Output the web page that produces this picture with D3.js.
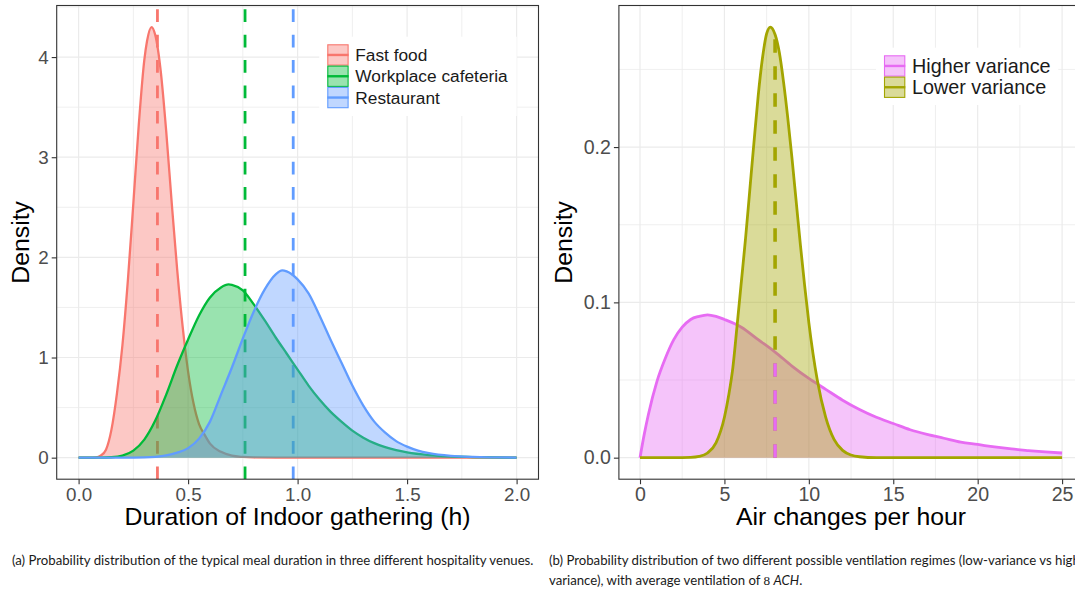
<!DOCTYPE html>
<html>
<head>
<meta charset="utf-8">
<script src="https://cdn.jsdelivr.net/npm/d3@7"></script>
<style>
  body { margin: 0; background: #fff; overflow: hidden; }
  svg { display: block; }
  text { font-family: "Liberation Sans", Arial, sans-serif; }
  .caption { font-family: Lato, sans-serif; font-size: 13.2px; fill: #1a1a1a; }
</style>
</head>
<body>
<svg id="chart" width="1075" height="593"></svg>
<script>
// ---- data ----
// (a) meal duration densities
var venueNames = ["Fast food", "Workplace cafeteria", "Restaurant"];
var venueColors = ["#F8766D", "#00BA38", "#619CFF"];
var venueMeans = [0.36, 0.76, 0.98];

var fastFoodHours = [0, 0.05, 0.08, 0.10, 0.125, 0.15, 0.175, 0.20, 0.225, 0.25, 0.275, 0.30, 0.3125, 0.333, 0.35, 0.375, 0.40, 0.425, 0.45, 0.475, 0.50, 0.525, 0.55, 0.575, 0.60, 0.65, 0.70, 0.75, 0.80, 0.90, 1.0, 1.5, 2.0];
var fastFoodDensity = [0, 0, 0.004, 0.02, 0.08, 0.28, 0.64, 1.12, 1.77, 2.54, 3.33, 3.97, 4.16, 4.30, 4.22, 3.86, 3.26, 2.55, 1.88, 1.31, 0.86, 0.54, 0.335, 0.23, 0.14, 0.058, 0.02, 0.007, 0.002, 0.0003, 0, 0, 0];

var cafeteriaHours = [0, 0.10, 0.15, 0.20, 0.25, 0.30, 0.35, 0.40, 0.45, 0.50, 0.55, 0.60, 0.65, 0.685, 0.70, 0.75, 0.80, 0.85, 0.90, 0.95, 1.00, 1.05, 1.10, 1.15, 1.20, 1.25, 1.30, 1.35, 1.40, 1.45, 1.50, 1.60, 1.70, 1.80, 1.90, 2.00];
var cafeteriaDensity = [0, 0.0005, 0.004, 0.02, 0.07, 0.18, 0.37, 0.63, 0.92, 1.18, 1.42, 1.60, 1.70, 1.73, 1.725, 1.67, 1.53, 1.37, 1.20, 1.04, 0.88, 0.72, 0.58, 0.46, 0.36, 0.27, 0.20, 0.145, 0.105, 0.075, 0.053, 0.026, 0.012, 0.005, 0.002, 0.001];

var restaurantHours = [0, 0.25, 0.30, 0.35, 0.40, 0.45, 0.50, 0.55, 0.60, 0.65, 0.70, 0.75, 0.80, 0.85, 0.90, 0.93, 0.95, 1.00, 1.05, 1.10, 1.15, 1.20, 1.25, 1.30, 1.35, 1.40, 1.45, 1.50, 1.55, 1.60, 1.70, 1.80, 1.90, 2.00];
var restaurantDensity = [0, 0.0005, 0.002, 0.008, 0.022, 0.05, 0.095, 0.19, 0.36, 0.63, 0.90, 1.19, 1.46, 1.68, 1.83, 1.87, 1.86, 1.78, 1.64, 1.42, 1.18, 0.95, 0.72, 0.52, 0.36, 0.25, 0.165, 0.11, 0.07, 0.045, 0.018, 0.007, 0.003, 0.001];

var durationTicks = [0, 0.5, 1, 1.5, 2];
var durationDensityTicks = [0, 1, 2, 3, 4];

// (b) ventilation densities
var regimeNames = ["Higher variance", "Lower variance"];
var regimeColors = ["#E76BF3", "#A3A500"];
var regimeMeans = [8, 8];
var regimeDensityAtMean = [0.068, 0.27];

var highVarACH = [0, 0.25, 0.5, 1, 1.5, 2, 2.5, 3, 3.5, 4, 4.5, 5, 6, 7, 8, 9, 10, 11, 12, 13, 14, 15, 16, 17, 18, 19, 20, 21, 22, 23, 24, 25];
var highVarDensity = [0, 0.015, 0.028, 0.049, 0.064, 0.076, 0.084, 0.089, 0.091, 0.092, 0.091, 0.089, 0.084, 0.076, 0.068, 0.059, 0.051, 0.044, 0.037, 0.031, 0.026, 0.022, 0.018, 0.015, 0.0125, 0.010, 0.0085, 0.0069, 0.0056, 0.0046, 0.0037, 0.003];

var lowVarACH = [0, 1, 2, 3, 3.5, 4, 4.5, 5, 5.25, 5.5, 5.75, 6, 6.25, 6.5, 6.75, 7, 7.25, 7.5, 7.72, 8, 8.25, 8.5, 8.75, 9, 9.25, 9.5, 9.75, 10, 10.5, 11, 11.5, 12, 12.5, 13, 14, 15, 20, 25];
var lowVarDensity = [0, 0, 0, 0.0002, 0.0008, 0.003, 0.0095, 0.026, 0.04, 0.058, 0.085, 0.113, 0.141, 0.172, 0.203, 0.233, 0.257, 0.273, 0.2773, 0.2725, 0.261, 0.242, 0.219, 0.193, 0.165, 0.137, 0.111, 0.087, 0.05, 0.026, 0.0116, 0.0047, 0.0017, 0.0006, 0, 0, 0, 0];

var achTicks = [0, 5, 10, 15, 20, 25];
var achDensityTicks = [0, 0.1, 0.2];

// ---- drawing ----
var svg = d3.select("#chart");
svg.append("rect").attr("width", 1075).attr("height", 593).attr("fill", "#fff");

var TOP = 5.5, BOTTOM = 479.2;

function zipSeries(xs, ys) {
  return xs.map(function(v, i) { return [v, ys[i]]; });
}

// ggplot style 5% expansion
function expand(lo, hi) {
  var pad = (hi - lo) * 0.05;
  return [lo - pad, hi + pad];
}

function minorBreaks(ticks, domain) {
  var step = ticks[1] - ticks[0];
  var ext = [ticks[0] - step].concat(ticks, [ticks[ticks.length - 1] + step]);
  return d3.pairs(ext).map(function(p) { return (p[0] + p[1]) / 2; })
    .filter(function(v) { return v > domain[0] && v < domain[1]; });
}

function drawPanel(p) {
  var allX = [], allY = [];
  p.series.forEach(function(s) { allX = allX.concat(s.values.map(function(d) { return d[0]; }));
                                  allY = allY.concat(s.values.map(function(d) { return d[1]; })); });
  var xDom = expand(d3.min(allX), d3.max(allX));
  var yDom = expand(0, d3.max(allY));

  var x = d3.scaleLinear().domain(xDom).range([p.left, p.right]);
  var y = d3.scaleLinear().domain(yDom).range([BOTTOM, TOP]);

  var g = svg.append("g");
  var clipId = "clip" + p.id;
  g.append("clipPath").attr("id", clipId).append("rect")
    .attr("x", p.left).attr("y", TOP).attr("width", p.right - p.left).attr("height", BOTTOM - TOP);

  var plot = g.append("g").attr("clip-path", "url(#" + clipId + ")");

  // grid
  minorBreaks(p.xTicks, xDom).forEach(function(v) {
    plot.append("line").attr("x1", x(v)).attr("x2", x(v)).attr("y1", TOP).attr("y2", BOTTOM)
      .attr("stroke", "#EBEBEB").attr("stroke-width", 0.8);
  });
  minorBreaks(p.yTicks, yDom).forEach(function(v) {
    plot.append("line").attr("x1", p.left).attr("x2", p.right).attr("y1", y(v)).attr("y2", y(v))
      .attr("stroke", "#EBEBEB").attr("stroke-width", 0.8);
  });
  p.xTicks.forEach(function(v) {
    plot.append("line").attr("x1", x(v)).attr("x2", x(v)).attr("y1", TOP).attr("y2", BOTTOM)
      .attr("stroke", "#EBEBEB").attr("stroke-width", 1.2);
  });
  p.yTicks.forEach(function(v) {
    plot.append("line").attr("x1", p.left).attr("x2", p.right).attr("y1", y(v)).attr("y2", y(v))
      .attr("stroke", "#EBEBEB").attr("stroke-width", 1.2);
  });

  // mean lines under the densities (full height)
  if (p.meanMode === "vline") {
    p.series.forEach(function(s) {
      plot.append("line").attr("x1", x(s.mean)).attr("x2", x(s.mean))
        .attr("y1", BOTTOM).attr("y2", TOP)
        .attr("stroke", s.color).attr("stroke-width", p.dashWidth)
        .attr("stroke-dasharray", p.dash);
    });
  }

  var area = d3.area().curve(d3.curveMonotoneX)
    .x(function(d) { return x(d[0]); }).y0(y(0)).y1(function(d) { return y(d[1]); });
  var line = d3.line().curve(d3.curveMonotoneX)
    .x(function(d) { return x(d[0]); }).y(function(d) { return y(d[1]); });

  p.series.forEach(function(s) {
    plot.append("path").attr("d", area(s.values)).attr("fill", s.color).attr("fill-opacity", 0.4);
    plot.append("path").attr("d", line(s.values)).attr("fill", "none")
      .attr("stroke", s.color).attr("stroke-width", p.lineWidth);
  });

  // mean segments on top (from 0 up to the curve)
  if (p.meanMode === "segment") {
    p.series.slice().reverse().forEach(function(s) {
      plot.append("line").attr("x1", x(s.mean)).attr("x2", x(s.mean))
        .attr("y1", y(0)).attr("y2", y(s.meanHeight))
        .attr("stroke", s.color).attr("stroke-width", p.dashWidth)
        .attr("stroke-dasharray", p.dash);
    });
  }

  g.append("rect").attr("x", p.left).attr("y", TOP)
    .attr("width", p.right - p.left).attr("height", BOTTOM - TOP)
    .attr("fill", "none").attr("stroke", "#333333").attr("stroke-width", 1.1);

  // axes
  var xAxis = g.append("g").attr("transform", "translate(0," + BOTTOM + ")")
    .call(d3.axisBottom(x).tickValues(p.xTicks).tickFormat(p.xFmt).tickSize(5).tickPadding(3));
  var yAxis = g.append("g").attr("transform", "translate(" + p.left + ",0)")
    .call(d3.axisLeft(y).tickValues(p.yTicks).tickFormat(p.yFmt).tickSize(5).tickPadding(3));
  [xAxis, yAxis].forEach(function(a) {
    a.select(".domain").remove();
    a.selectAll(".tick line").attr("stroke", "#333333").attr("stroke-width", 1.1);
    a.selectAll(".tick text").attr("fill", "#4D4D4D")
      .style("font-family", "'Liberation Sans', Arial, sans-serif")
      .style("font-size", p.tickFont + "px");
  });

  // titles
  g.append("text").attr("x", (p.left + p.right) / 2).attr("y", 525)
    .attr("text-anchor", "middle").style("font-size", "24.8px").attr("fill", "#000")
    .text(p.xTitle);
  g.append("text").attr("transform", "translate(" + p.yTitleX + "," + (TOP + BOTTOM) / 2 + ") rotate(-90)")
    .attr("text-anchor", "middle").style("font-size", "24.8px").attr("fill", "#000")
    .text("Density");

  // legend
  var L = p.legend;
  var lg = g.append("g");
  lg.append("rect").attr("x", L.x).attr("y", L.y).attr("width", L.w).attr("height", L.h).attr("fill", "#fff");
  p.series.forEach(function(s, i) {
    var ky = L.y + 7.6 + i * L.row;
    lg.append("rect").attr("x", L.x + 8.5).attr("y", ky + 0.5)
      .attr("width", L.key - 1).attr("height", L.key - 1)
      .attr("fill", s.color).attr("fill-opacity", 0.4)
      .attr("stroke", s.color).attr("stroke-width", 1.1);
    lg.append("line").attr("x1", L.x + 8).attr("x2", L.x + 8 + L.key)
      .attr("y1", ky + L.key / 2).attr("y2", ky + L.key / 2)
      .attr("stroke", s.color).attr("stroke-width", 2.4);
    lg.append("text").attr("x", L.x + 36).attr("y", ky + L.textDy)
      .style("font-size", L.font + "px").attr("fill", "#1a1a1a").text(s.name);
  });
}

drawPanel({
  id: "a", left: 56.7, right: 538.5,
  series: [
    { name: venueNames[0], color: venueColors[0], mean: venueMeans[0], values: zipSeries(fastFoodHours, fastFoodDensity) },
    { name: venueNames[1], color: venueColors[1], mean: venueMeans[1], values: zipSeries(cafeteriaHours, cafeteriaDensity) },
    { name: venueNames[2], color: venueColors[2], mean: venueMeans[2], values: zipSeries(restaurantHours, restaurantDensity) }
  ],
  xTicks: durationTicks, yTicks: durationDensityTicks,
  xFmt: d3.format(".1f"), yFmt: d3.format("d"),
  tickFont: 18.8, lineWidth: 2.3, dashWidth: 2.8, dash: "12.7,12.7",
  meanMode: "vline",
  xTitle: "Duration of Indoor gathering (h)", yTitleX: 28.5,
  legend: { x: 319.3, y: 36.7, w: 197.4, h: 79.3, key: 21.3, row: 21.3, textDy: 16.8, font: 17.3 }
});

drawPanel({
  id: "b", left: 618.9, right: 1083.2,
  series: [
    { name: regimeNames[0], color: regimeColors[0], mean: regimeMeans[0], meanHeight: regimeDensityAtMean[0], values: zipSeries(highVarACH, highVarDensity) },
    { name: regimeNames[1], color: regimeColors[1], mean: regimeMeans[1], meanHeight: regimeDensityAtMean[1], values: zipSeries(lowVarACH, lowVarDensity) }
  ],
  xTicks: achTicks, yTicks: achDensityTicks,
  xFmt: d3.format("d"), yFmt: d3.format(".1f"),
  tickFont: 19.6, lineWidth: 2.8, dashWidth: 3.6, dash: "13.5,13.5",
  meanMode: "segment",
  xTitle: "Air changes per hour", yTitleX: 572,
  legend: { x: 876, y: 47.7, w: 182.3, h: 57.3, key: 21.3, row: 21.3, textDy: 17.6, font: 19.8 }
});

// captions
svg.append("text").attr("class", "caption").attr("x", 12).attr("y", 565)
  .text("(a) Probability distribution of the typical meal duration in three different hospitality venues.");
svg.append("text").attr("class", "caption").attr("x", 549).attr("y", 565)
  .text("(b) Probability distribution of two different possible ventilation regimes (low-variance vs high-");
var cap2 = svg.append("text").attr("class", "caption").attr("x", 549).attr("y", 585);
cap2.append("tspan").text("variance), with average ventilation of ");
cap2.append("tspan").style("font-family", "'Liberation Serif', 'DejaVu Serif', serif").text("8");
cap2.append("tspan").text(" ");
cap2.append("tspan").style("font-style", "italic").text("ACH");
cap2.append("tspan").text(".");
</script>
</body>
</html>
